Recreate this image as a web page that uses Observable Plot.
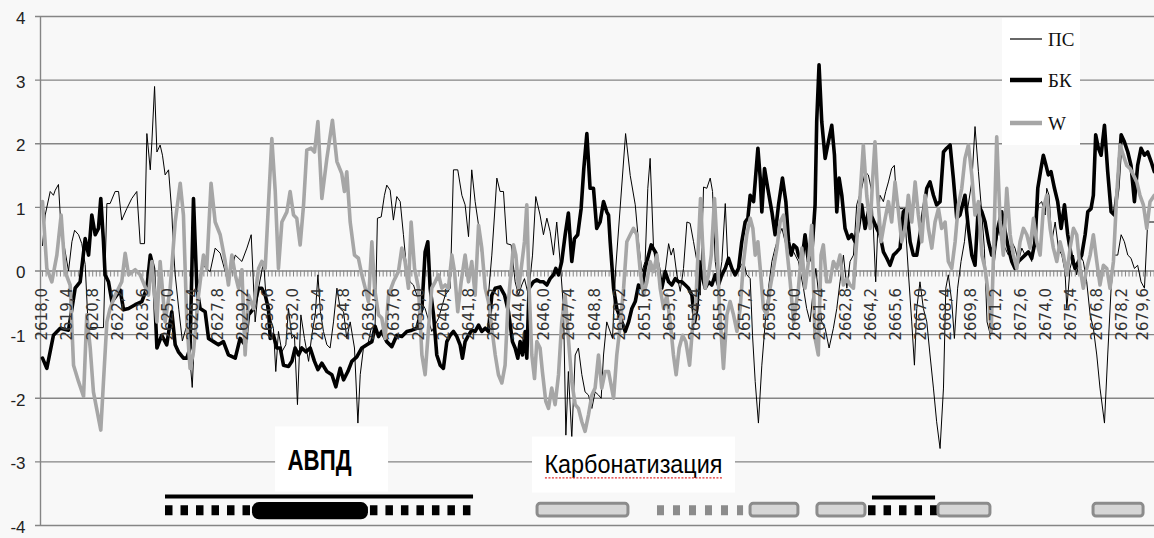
<!DOCTYPE html>
<html><head><meta charset="utf-8">
<script src="https://cdn.jsdelivr.net/npm/d3@7"></script>
<script src="https://cdn.jsdelivr.net/npm/@observablehq/plot@0.6"></script>
<style>
body{margin:0;background:#f8f8f8;}
#wrap{position:relative;width:1154px;height:538px;overflow:hidden;background:#f8f8f8;}
#legend{position:absolute;left:1002px;top:18px;width:78px;height:127px;background:#fff;}
</style></head><body>
<div id="wrap"></div>
<script>
// ---- series: [depth, value] ----
const psData = [
[2618.00,0.40],[2618.15,0.88],[2618.43,1.25],[2618.61,1.19],[2618.71,1.27],[2618.89,1.36],[2618.99,0.88],[2619.17,0.46],[2619.45,0.00],[2619.64,0.46],[2619.79,0.64],[2620.01,0.57],[2620.19,0.43],[2620.38,0.10],[2620.55,-0.89],[2621.40,-0.89],[2621.59,1.06],[2621.77,1.06],[2622.05,1.25],[2622.24,1.25],[2622.42,0.80],[2622.70,0.98],[2622.98,1.14],[2623.26,1.25],[2623.45,0.43],[2623.69,0.43],[2623.82,2.16],[2624.01,1.59],[2624.10,2.03],[2624.25,2.90],[2624.38,1.87],[2624.56,1.98],[2624.69,1.82],[2624.84,1.51],[2625.03,1.59],[2625.21,0.93],[2625.30,0.36],[2625.40,-0.06],[2625.60,-0.60],[2625.80,-1.10],[2626.00,-0.90],[2626.20,-1.30],[2626.35,-1.83],[2626.50,-0.90],[2626.70,-0.20],[2626.90,0.10],[2627.35,-0.01],[2627.63,0.36],[2627.91,0.28],[2628.19,-0.01],[2628.37,-0.17],
[2628.75,0.25],[2629.12,0.15],[2629.40,0.36],[2629.64,0.57],[2629.86,-0.80],[2630.05,-0.27],[2630.33,0.15],[2630.51,-0.59],[2630.70,-0.74],[2630.88,-0.90],[2631.01,-1.58],[2631.16,-0.95],[2631.35,-1.27],[2631.57,-1.16],[2631.72,-0.59],[2631.91,-1.06],[2632.05,-1.01],[2632.22,-2.10],[2632.41,-0.69],[2632.61,-1.06],[2632.84,-1.42],[2633.02,-1.01],[2633.21,-0.69],[2633.36,-0.06],[2633.50,-0.64],[2633.67,-0.95],[2633.86,-1.16],[2634.04,-1.21],[2634.23,-0.80],[2634.42,-0.27],[2634.60,-0.59],[2634.79,-0.64],[2634.97,-1.06],[2635.16,-0.80],[2635.40,-1.21],[2635.59,-2.39],[2635.72,-1.63],[2635.90,-1.21],[2636.14,-1.16],[2636.33,-0.90],[2636.55,-0.85],[2636.68,0.83],[2636.89,0.85],[2637.07,1.19],[2637.20,1.35],[2637.39,1.27],[2637.57,0.80],[2637.76,1.17],[2637.95,1.09],[2638.13,0.57],[2638.32,-0.01],[2638.50,-0.17],[2638.69,-0.22],[2638.88,-0.38],
[2639.34,-0.59],[2639.71,-0.95],[2640.09,-0.74],[2640.46,-0.38],[2640.74,-0.27],[2640.92,1.59],[2641.16,1.59],[2641.39,1.19],[2641.57,1.04],[2641.76,0.54],[2641.94,1.59],[2642.13,1.09],[2642.32,0.72],[2642.50,0.25],[2642.69,-0.27],[2642.87,-0.38],[2643.06,0.25],[2643.21,0.88],[2643.34,1.46],[2643.52,1.25],[2643.71,1.25],[2643.90,0.43],[2644.14,0.41],[2644.36,-0.17],[2644.55,-0.38],[2644.73,-0.22],[2644.88,-0.12],[2645.10,-0.38],[2645.33,0.25],[2645.51,1.17],[2645.75,0.88],[2645.94,0.57],[2646.13,0.83],[2646.31,0.62],[2646.50,0.25],[2646.68,0.77],[2646.87,0.15],[2647.06,-0.59],[2647.19,-2.58],[2647.33,-1.58],[2647.52,-2.63],[2647.71,-1.32],[2647.89,-1.21],[2648.08,-1.63],[2648.26,-1.90],[2648.45,-1.95],[2648.64,-2.16],[2648.82,-1.90],[2649.01,-1.95],[2649.16,-2.00],[2649.29,-1.32],[2649.47,-0.80],[2649.79,-1.06],[2649.96,0.00],[2650.52,2.16],[2650.78,1.50],[2651.06,1.04],[2651.24,0.46],[2651.43,-0.01],[2651.61,0.15],[2651.76,1.30],[2651.89,1.77],[2652.08,0.36],[2652.27,0.30],[2652.36,0.04],[2652.54,-0.27],[2652.73,-0.01],[2652.92,0.43],[2653.06,0.25],[2653.19,0.36],[2653.38,-0.06],[2653.57,-0.32],[2653.75,0.04],[2653.94,0.77],[2654.12,0.75],[2654.31,0.46],[2654.50,0.15],[2654.68,-0.38],[2654.87,1.32],[2655.05,1.30],[2655.24,1.46],[2655.37,1.25],[2655.52,0.15],[2655.70,-0.22],[2655.89,0.15],[2656.08,1.06],[2656.22,0.15],[2656.41,0.04],[2656.63,-0.01],[2656.86,0.04],[2657.10,0.15],[2657.28,-0.06],[2657.47,-0.12],[2657.60,-1.01],[2657.75,-1.74],[2657.93,-2.39],[2658.12,-1.48],[2658.31,-0.80],[2658.49,-0.27],[2658.68,0.15],[2658.86,0.36],[2659.05,0.54],[2659.24,0.67],[2659.42,0.46],[2659.61,0.25],[2659.79,0.36],[2659.98,0.25],
[2660.16,0.15],[2660.44,-0.27],[2660.62,-0.59],[2660.81,-0.80],[2661.00,-0.27],[2661.13,0.04],[2661.46,-0.80],[2661.65,-0.90],[2661.87,-1.21],[2662.11,-0.90],[2662.30,-0.59],[2662.48,-0.17],[2662.67,0.25],[2662.86,-0.27],[2663.04,0.15],[2663.23,0.25],[2663.41,1.04],[2663.69,1.30],[2663.88,1.56],[2664.06,1.51],[2664.25,1.25],[2664.47,-0.17],[2664.58,0.62],[2664.71,1.19],[2664.90,1.09],[2665.03,1.25],[2665.18,1.40],[2665.36,1.61],[2665.51,1.66],[2665.64,1.09],[2665.83,0.98],[2666.01,0.98],[2666.14,0.67],[2666.29,-0.01],[2666.48,-0.80],[2666.63,-1.48],[2666.76,-0.59],[2666.94,-0.17],[2667.13,-0.59],[2667.32,-0.80],[2667.50,-1.32],[2667.69,-1.84],[2667.87,-2.37],[2668.06,-2.79],[2668.25,-1.84],[2668.38,-0.27],[2668.52,-0.06],[2668.71,-0.48],[2668.86,-1.06],[2669.04,-0.27],[2669.23,0.15],[2669.42,0.46],[2669.60,0.98],[2669.83,1.40],[2670.01,2.27],[2670.20,1.56],[2670.38,0.93],[2670.53,0.36],[2670.68,-0.80],[2670.87,-1.01],
[2671.04,-0.01],[2671.13,0.25],[2671.32,0.67],[2671.50,0.46],[2671.69,0.36],[2671.87,0.25],[2672.06,0.46],[2672.24,0.36],[2672.43,0.15],[2672.62,0.36],[2672.80,0.25],[2672.99,0.30],[2673.17,0.15],[2673.36,0.67],[2673.55,1.04],[2673.73,1.09],[2673.92,0.88],[2674.01,1.30],[2674.14,1.19],[2674.29,0.46],[2674.48,0.77],[2674.66,0.36],[2674.85,0.25],[2675.03,-0.01],[2675.13,-0.59],[2675.31,0.04],[2675.50,0.25],[2675.68,-0.06],[2675.87,0.25],[2676.05,0.15],[2676.24,-0.17],[2676.43,-0.69],[2676.61,-0.90],[2676.80,-1.32],[2676.98,-1.84],[2677.23,-2.39],[2677.41,-1.32],[2677.60,-0.27],[2677.78,0.25],[2677.97,0.25],[2678.16,0.57],[2678.34,0.46],[2678.53,0.25],[2678.71,0.20],[2678.90,0.04],[2679.08,0.09],[2679.27,-0.17],[2679.46,-0.27],[2679.64,0.77],[2679.83,0.77],[2680.01,0.77]
];
const bkData = [
[2618.00,-1.37],[2618.24,-1.53],[2618.61,-1.01],[2618.99,-0.90],[2619.45,-0.93],[2619.82,-0.27],[2620.10,-0.17],[2620.38,0.51],[2620.57,0.25],[2620.75,0.88],[2620.94,0.57],[2621.12,0.67],[2621.25,1.14],[2621.40,0.46],[2621.49,-0.06],[2621.68,-0.17],[2621.87,-0.48],[2622.14,-0.38],[2622.33,-0.30],[2622.52,-0.61],[2622.80,-0.59],[2623.17,-0.53],[2623.54,-0.48],[2623.82,-0.27],[2624.01,0.25],[2624.19,0.04],[2624.38,-1.21],[2624.65,-1.01],[2624.93,-1.16],[2625.21,-0.64],[2625.40,-1.16],[2625.58,-1.27],[2625.86,-1.37],[2626.05,-1.37],[2626.23,-1.21],[2626.42,1.14],[2626.61,-0.27],[2626.79,-0.59],[2627.07,-0.64],[2627.26,-1.06],[2627.54,-1.11],[2627.81,-1.16],[2628.09,-1.11],[2628.37,-1.32],
[2628.75,-1.37],[2629.02,-1.06],[2629.30,-1.16],[2629.49,-0.69],[2629.77,-0.59],[2630.05,-0.27],[2630.23,-0.27],[2630.42,-0.38],[2630.60,-0.59],[2630.70,-1.06],[2630.88,-1.01],[2631.07,-1.21],[2631.26,-1.21],[2631.44,-1.48],[2631.72,-1.50],[2631.91,-1.42],[2632.09,-1.21],[2632.28,-1.32],[2632.46,-1.21],[2632.69,-1.27],[2632.93,-1.21],[2633.17,-1.42],[2633.36,-1.55],[2633.58,-1.45],[2633.86,-1.58],[2634.14,-1.63],[2634.36,-1.82],[2634.60,-1.53],[2634.79,-1.71],[2635.03,-1.58],[2635.25,-1.42],[2635.53,-1.35],[2635.81,-1.21],[2636.09,-1.16],[2636.37,-1.11],[2636.55,-0.87],[2636.74,-1.03],[2636.92,-0.95],[2637.20,-1.11],[2637.48,-1.19],[2637.76,-1.01],[2638.04,-1.03],[2638.32,-0.95],[2638.60,-0.93],[2638.88,-0.90],
[2639.16,-0.59],[2639.34,0.30],[2639.49,0.46],[2639.62,-0.27],[2639.81,-0.69],[2639.99,-1.32],[2640.18,-1.48],[2640.36,-1.53],[2640.55,-1.11],[2640.74,-1.01],[2640.92,-0.95],[2641.11,-1.03],[2641.29,-1.16],[2641.42,-1.37],[2641.57,-1.11],[2641.76,-1.01],[2641.94,-0.93],[2642.13,-0.95],[2642.32,-0.85],[2642.50,-0.95],[2642.69,-0.90],[2642.87,-0.95],[2643.06,-0.38],[2643.25,-0.27],[2643.52,-0.25],[2643.77,-0.38],[2643.99,-0.64],[2644.21,-1.11],[2644.36,-1.21],[2644.51,-1.37],[2644.64,-1.11],[2644.77,-1.32],[2644.92,-0.95],[2645.01,-1.37],[2645.14,-0.27],[2645.38,-0.17],[2645.57,-0.14],[2645.75,-0.17],[2645.94,-0.17],[2646.13,-0.22],[2646.31,-0.12],[2646.50,-0.06],[2646.63,0.04],[2646.78,-0.06],[2646.96,0.15],[2647.15,0.57],[2647.33,0.91],[2647.52,0.15],[2647.67,0.51],[2647.85,0.57],[2648.04,0.98],[2648.19,1.61],[2648.36,2.16],[2648.54,1.30],[2648.73,1.30],[2648.91,0.67],[2649.10,0.77],[2649.29,1.09],[2649.47,0.93],
[2649.57,0.88],[2649.66,0.46],[2649.85,-0.27],[2650.03,-0.59],[2650.31,-0.80],[2650.50,-0.95],[2650.69,-0.80],[2650.87,-0.59],[2651.06,-0.48],[2651.24,-0.22],[2651.43,-0.27],[2651.61,0.04],[2651.80,0.25],[2651.95,0.41],[2652.17,0.30],[2652.36,0.04],[2652.54,-0.27],[2652.73,-0.01],[2652.92,-0.17],[2653.10,-0.22],[2653.29,-0.12],[2653.47,-0.17],[2653.66,-0.17],[2653.85,-0.22],[2654.03,-0.27],[2654.22,-0.38],[2654.37,-0.80],[2654.50,-0.59],[2654.63,0.15],[2654.77,-0.06],[2654.96,-0.27],[2655.15,-0.17],[2655.33,-0.22],[2655.52,-0.06],[2655.70,-0.22],[2655.89,-0.06],[2656.08,0.04],[2656.26,0.20],[2656.45,0.04],[2656.63,-0.06],[2656.82,0.04],[2657.00,0.46],[2657.19,0.77],[2657.34,0.83],[2657.47,1.19],[2657.66,1.09],[2657.90,1.93],[2658.03,1.46],[2658.12,0.93],[2658.27,1.61],[2658.45,1.30],[2658.68,0.93],[2658.86,0.57],[2659.05,1.04],[2659.27,1.46],[2659.46,1.09],[2659.61,0.46],[2659.76,0.25],[2659.90,0.41],[2660.07,0.36],
[2660.16,0.25],[2660.35,0.15],[2660.53,0.57],[2660.72,0.15],[2660.90,0.25],[2661.09,1.04],[2661.18,2.35],[2661.31,3.24],[2661.46,2.35],[2661.65,1.77],[2661.83,2.03],[2662.02,2.29],[2662.17,1.82],[2662.30,0.93],[2662.43,1.46],[2662.58,1.19],[2662.76,0.67],[2662.95,0.51],[2663.13,0.57],[2663.32,0.46],[2663.51,0.67],[2663.69,1.04],[2663.88,0.67],[2664.06,0.93],[2664.29,0.83],[2664.53,0.67],[2664.71,0.57],[2664.90,0.30],[2665.09,0.20],[2665.27,0.09],[2665.46,0.25],[2665.64,0.30],[2665.83,0.36],[2666.01,0.93],[2666.20,0.98],[2666.39,0.46],[2666.57,0.25],[2666.76,0.25],[2666.94,0.57],[2667.13,0.93],[2667.32,1.30],[2667.50,1.40],[2667.69,1.19],[2667.87,1.04],[2668.06,1.09],[2668.25,1.87],[2668.43,1.93],[2668.62,1.98],[2668.80,1.46],[2668.99,0.83],[2669.17,0.88],[2669.45,1.19],[2669.64,0.67],[2669.83,0.25],[2670.01,0.09],
[2670.20,1.04],[2670.39,0.93],[2670.57,0.77],[2670.76,0.46],[2670.94,0.25],[2671.13,0.46],[2671.32,0.72],[2671.50,0.93],[2671.69,0.62],[2671.87,0.36],[2672.06,0.15],[2672.24,0.04],[2672.43,0.15],[2672.62,0.20],[2672.80,0.25],[2672.99,0.30],[2673.17,0.20],[2673.36,0.46],[2673.51,1.30],[2673.69,1.61],[2673.82,1.82],[2673.97,1.66],[2674.10,1.51],[2674.25,1.56],[2674.44,1.30],[2674.62,1.09],[2674.81,0.67],[2675.00,1.04],[2675.18,0.57],[2675.37,0.25],[2675.59,0.04],[2675.78,0.15],[2675.96,0.25],[2676.15,0.57],[2676.30,0.93],[2676.48,0.98],[2676.61,1.19],[2676.74,2.14],[2676.89,1.93],[2677.04,1.82],[2677.23,2.29],[2677.41,1.56],[2677.60,0.93],[2677.78,0.88],[2677.97,1.30],[2678.16,2.14],[2678.34,2.03],[2678.53,1.87],[2678.71,1.66],[2678.90,1.09],[2679.08,1.66],[2679.27,1.93],[2679.46,1.82],[2679.64,1.87],[2679.83,1.72],[2680.01,1.56]
];
const wData = [
[2618.00,1.09],[2618.24,0.04],[2618.52,-0.17],[2618.80,0.25],[2619.04,0.88],[2619.26,-0.01],[2619.54,-0.22],[2619.73,-1.48],[2620.01,-1.74],[2620.29,-1.97],[2620.47,-0.69],[2620.66,-1.21],[2620.84,-1.90],[2621.25,-2.50],[2621.40,-1.74],[2621.59,-0.80],[2621.77,-0.59],[2622.05,-0.38],[2622.42,-0.17],[2622.61,0.28],[2622.80,-0.06],[2623.17,0.02],[2623.45,-0.06],[2623.91,-0.38],[2624.10,0.15],[2624.38,-0.80],[2624.56,0.15],[2624.84,-0.80],[2625.12,-0.27],[2625.40,0.77],[2625.68,1.38],[2625.86,0.88],[2626.05,-0.80],[2626.23,-1.53],[2626.42,-1.27],[2626.70,-0.38],[2626.98,0.25],[2627.16,0.04],[2627.40,1.38],[2627.63,0.77],[2627.91,0.57],[2628.19,0.15],[2628.37,-0.22],
[2628.56,0.25],[2628.75,-0.06],[2628.93,-0.27],[2629.12,0.02],[2629.30,-1.32],[2629.49,-0.38],[2629.77,-0.59],[2630.05,0.04],[2630.23,0.15],[2630.42,0.04],[2630.60,1.04],[2630.79,2.08],[2630.98,1.25],[2631.16,0.04],[2631.35,0.77],[2631.63,0.93],[2631.81,1.25],[2632.00,0.88],[2632.18,0.83],[2632.37,0.41],[2632.56,1.04],[2632.74,1.90],[2632.98,1.93],[2633.17,1.87],[2633.36,2.35],[2633.58,1.14],[2633.86,1.77],[2634.17,2.37],[2634.42,1.72],[2634.69,1.53],[2634.84,1.25],[2634.97,1.56],[2635.16,0.77],[2635.40,0.25],[2635.62,0.20],[2635.81,-0.06],[2636.00,-0.27],[2636.18,-0.48],[2636.37,0.46],[2636.52,-0.27],[2636.74,-0.69],[2636.92,-0.74],[2637.11,-1.06],[2637.30,-0.38],[2637.57,-0.17],[2637.85,-0.01],[2638.04,0.36],[2638.22,0.15],[2638.41,-0.27],[2638.56,0.77],[2638.75,0.04],[2638.97,-0.27],
[2639.16,-1.32],[2639.34,-1.63],[2639.53,-0.90],[2639.71,-0.27],[2639.90,-0.17],[2640.09,-0.06],[2640.27,-0.27],[2640.46,-0.22],[2640.64,-0.27],[2640.83,0.25],[2640.98,-0.01],[2641.16,-0.64],[2641.35,-0.17],[2641.57,0.25],[2641.76,-0.17],[2641.94,0.15],[2642.13,-0.38],[2642.32,0.72],[2642.50,0.36],[2642.69,-0.27],[2642.87,-0.48],[2643.06,-0.90],[2643.25,-1.32],[2643.43,-1.63],[2643.62,-1.76],[2643.80,-1.48],[2643.95,-0.59],[2644.08,-0.17],[2644.27,0.41],[2644.40,0.25],[2644.55,-0.27],[2644.70,0.04],[2644.88,0.46],[2645.01,1.04],[2645.14,-0.27],[2645.29,-1.32],[2645.44,-1.69],[2645.57,-1.11],[2645.75,-1.21],[2645.88,-1.58],[2646.07,-2.05],[2646.22,-2.16],[2646.40,-1.84],[2646.59,-2.10],[2646.78,-1.63],[2646.96,-0.80],[2647.15,-0.38],[2647.33,-1.06],[2647.52,-1.74],[2647.71,-2.10],[2647.89,-2.16],[2648.08,-2.37],[2648.26,-2.52],[2648.45,-2.26],[2648.64,-1.95],[2648.82,-1.84],[2649.01,-1.32],[2649.19,-1.84],[2649.38,-1.58],
[2649.57,-1.58],[2649.85,-2.00],[2650.03,-1.32],[2650.22,-0.85],[2650.41,-0.27],[2650.59,0.46],[2650.78,0.57],[2650.96,0.67],[2651.15,0.57],[2651.34,-0.01],[2651.52,-0.38],[2651.71,-0.17],[2651.89,0.15],[2652.08,-0.01],[2652.27,0.25],[2652.45,-0.27],[2652.64,-0.59],[2652.82,-0.38],[2653.01,-0.80],[2653.19,-1.32],[2653.34,-1.63],[2653.51,-1.21],[2653.70,-1.01],[2653.88,-1.11],[2654.09,-1.48],[2654.25,-0.90],[2654.44,-0.48],[2654.59,0.46],[2654.70,1.14],[2654.81,0.46],[2654.96,-0.27],[2655.15,-0.06],[2655.30,0.25],[2655.48,1.14],[2655.61,0.46],[2655.76,-0.59],[2655.98,-1.53],[2656.17,-0.69],[2656.35,-0.48],[2656.54,-0.69],[2656.73,-0.95],[2656.91,-0.59],[2657.10,0.15],[2657.28,0.57],[2657.47,0.83],[2657.62,0.67],[2657.75,0.25],[2657.90,0.46],[2658.03,0.04],[2658.21,-0.59],[2658.40,-0.69],[2658.58,-0.27],[2658.77,0.04],[2658.96,0.36],[2659.14,0.77],[2659.33,0.88],[2659.51,0.36],[2659.70,-0.17],[2659.89,-0.80],
[2660.16,-0.27],[2660.35,0.36],[2660.53,-0.27],[2660.72,0.15],[2660.90,0.72],[2661.09,-1.06],[2661.27,-1.32],[2661.42,0.25],[2661.55,0.41],[2661.73,-0.17],[2661.92,-0.17],[2662.11,0.15],[2662.30,0.04],[2662.48,0.25],[2662.67,-0.22],[2662.86,-0.12],[2663.04,-0.22],[2663.23,-0.27],[2663.41,0.46],[2663.60,1.19],[2663.78,1.98],[2663.97,1.19],[2664.16,0.67],[2664.29,1.40],[2664.43,2.03],[2664.58,1.19],[2664.77,0.46],[2664.96,0.77],[2665.18,1.09],[2665.36,0.77],[2665.55,1.40],[2665.74,0.93],[2665.92,0.46],[2666.11,0.67],[2666.29,1.19],[2666.48,0.77],[2666.67,1.40],[2666.85,0.88],[2667.04,0.46],[2667.22,1.19],[2667.41,0.67],[2667.60,0.36],[2667.78,0.77],[2667.97,0.98],[2668.15,0.67],[2668.34,0.77],[2668.52,0.15],[2668.71,0.04],[2668.90,0.46],[2669.08,1.04],[2669.27,1.30],[2669.45,1.77],[2669.64,1.98],[2669.83,1.51],[2670.01,0.88],[2670.20,1.09],
[2670.39,0.25],[2670.57,0.04],[2670.76,-0.38],[2670.91,-0.95],[2671.04,0.25],[2671.22,2.11],[2671.41,0.77],[2671.59,0.25],[2671.78,1.30],[2671.97,0.57],[2672.15,0.25],[2672.34,0.04],[2672.52,0.46],[2672.71,0.67],[2672.90,0.57],[2673.08,0.36],[2673.27,0.83],[2673.45,0.46],[2673.64,0.25],[2673.82,0.98],[2674.01,1.19],[2674.20,0.67],[2674.38,0.36],[2674.57,0.15],[2674.75,0.46],[2674.94,0.25],[2675.13,-0.06],[2675.31,0.36],[2675.50,0.67],[2675.68,0.57],[2675.87,0.04],[2676.05,-0.27],[2676.24,0.04],[2676.43,0.25],[2676.61,0.57],[2676.80,0.15],[2676.98,-0.22],[2677.17,0.09],[2677.36,0.04],[2677.54,-0.27],[2677.73,0.15],[2677.91,1.19],[2678.10,1.98],[2678.28,1.82],[2678.47,1.66],[2678.66,1.61],[2678.84,1.51],[2679.03,1.40],[2679.21,1.19],[2679.40,1.04],[2679.59,0.67],[2679.77,1.09],[2680.01,1.19]
];

// ---- axes ----
const yTicks = [-4,-3,-2,-1,0,1,2,3,4];
const xTickLabels = [2618.0,2619.4,2620.8,2622.2,2623.6,2625.0,2626.4,2627.8,2629.2,2630.6,2632.0,2633.4,2634.8,2636.2,2637.6,2639.0,2640.4,2641.8,2643.2,2644.6,2646.0,2647.4,2648.8,2650.2,2651.6,2653.0,2654.4,2655.8,2657.2,2658.6,2660.0,2661.4,2662.8,2664.2,2665.6,2667.0,2668.4,2669.8,2671.2,2672.6,2674.0,2675.4,2676.8,2678.2,2679.6];
const minorStep = 0.2;
const axisStart = 2617.888;      // position of the value axis
const xDomain = [2617.609, 2680.02];

// ---- annotations (depth intervals, value levels) ----
const labelBoxes = [
  {x1: 2631.0, x2: 2637.3, y1: -2.45, y2: -3.475},
  {x1: 2645.33, x2: 2656.65, y1: -2.61, y2: -3.49}
];
const boldLabels = [{text: "АВПД", x: 2633.45, y: -2.98, len: 64}];
const plainLabels = [{text: "Карбонатизация", x: 2650.96, y: -3.05, len: 178}];
const spellLine = [{x1: 2646.05, x2: 2655.93, y: -3.25}];
const blackSolid = [{x1: 2624.86, x2: 2642.04, y: -3.545}, {x1: 2664.29, x2: 2667.81, y: -3.56}];
const blackDashed = [{x1: 2624.86, x2: 2629.60, y: -3.76}, {x1: 2636.29, x2: 2642.04, y: -3.76}, {x1: 2664.07, x2: 2667.92, y: -3.76}];
const blackBlock = [{x1: 2629.71, x2: 2636.18, y1: -3.64, y2: -3.91}];
const grayDashed = [{x1: 2652.30, x2: 2657.10, y: -3.76}];
const grayRects = [
  {x1: 2645.61, x2: 2650.68}, {x1: 2657.49, x2: 2660.16}, {x1: 2661.22, x2: 2663.90},
  {x1: 2667.97, x2: 2670.87}, {x1: 2676.62, x2: 2679.41}
];
const rectTop = -3.66, rectBottom = -3.86;

const minorTicks = d3.range(0, 311).map(i => 2618 + i * minorStep);
const fmt = d => d.toFixed(1).replace(".", ",");
const GRID = "#858585";
const xLabelStyle = {y: 0, text: fmt, rotate: -90, textAnchor: "end", dy: 17,
  fontSize: 15, fontFamily: "DejaVu Sans", fill: "#333"};

const chart = Plot.plot({
  width: 1154, height: 538,
  marginLeft: 35, marginRight: 0, marginTop: 16, marginBottom: 13,
  x: {domain: xDomain, axis: null},
  y: {domain: [-4, 4], axis: null},
  style: {background: "transparent", overflow: "visible"},
  marks: [
    Plot.ruleY(yTicks, {stroke: GRID, strokeWidth: 1.4}),
    Plot.ruleX([axisStart], {y1: -4, y2: 4, stroke: GRID, strokeWidth: 1.4}),
    Plot.ruleX(minorTicks, {x: d => d, y1: 0, y2: -0.095, stroke: GRID, strokeWidth: 1}),
    Plot.line(psData, {x: d => d[0], y: d => d[1], stroke: "#000", strokeWidth: 1, strokeLinejoin: "round"}),
    Plot.line(bkData, {x: d => d[0], y: d => d[1], stroke: "#000", strokeWidth: 3.6, strokeLinejoin: "round"}),
    Plot.line(wData, {x: d => d[0], y: d => d[1], stroke: "#a6a6a6", strokeWidth: 3.6, strokeLinejoin: "round"}),
    Plot.text(xTickLabels.slice(0, -1), {x: d => d, ...xLabelStyle}),
    Plot.text(xTickLabels.slice(-1), {x: d => d, ...xLabelStyle, dx: -4}),
    Plot.text(yTicks, {x: axisStart, y: d => d, text: d => String(d), textAnchor: "end", dx: -15, dy: 2,
      fontSize: 17, fontFamily: "Liberation Sans", fill: "#222"}),
    Plot.rect(labelBoxes, {x1: "x1", x2: "x2", y1: "y1", y2: "y2", fill: "#fff"}),
    Plot.text(boldLabels, {x: "x", y: "y", text: "text", fontSize: 30, fontWeight: "bold",
      fontFamily: "Liberation Sans", fill: "#000"}),
    Plot.text(plainLabels, {x: "x", y: "y", text: "text", fontSize: 25,
      fontFamily: "Liberation Sans", fill: "#000"}),
    Plot.ruleY(spellLine, {x1: "x1", x2: "x2", y: "y", stroke: "#e03030", strokeWidth: 1.3, strokeDasharray: "2,1.5"}),
    Plot.ruleY(blackSolid, {x1: "x1", x2: "x2", y: "y", stroke: "#000", strokeWidth: 4}),
    Plot.ruleY(blackDashed, {x1: "x1", x2: "x2", y: "y", stroke: "#000", strokeWidth: 10, strokeDasharray: "7.5,8"}),
    Plot.rect(blackBlock, {x1: "x1", x2: "x2", y1: "y1", y2: "y2", fill: "#000", rx: 7}),
    Plot.ruleY(grayDashed, {x1: "x1", x2: "x2", y: "y", stroke: "#8c8c8c", strokeWidth: 10, strokeDasharray: "7,9"}),
    Plot.rect(grayRects, {x1: "x1", x2: "x2", y1: rectTop, y2: rectBottom, fill: "#d6d6d6", stroke: "#8c8c8c", strokeWidth: 3, rx: 3})
  ]
});

// fit annotation text widths to the reference
const allLabels = boldLabels.concat(plainLabels);
d3.select(chart).selectAll("text").each(function() {
  const t = this.textContent;
  const lab = allLabels.find(l => l.text === t);
  if (lab) d3.select(this).attr("textLength", lab.len).attr("lengthAdjust", "spacingAndGlyphs");
});

const wrap = document.getElementById("wrap");
wrap.appendChild(chart);

// legend (overlay box, top right)
const legendItems = [
  {name: "ПС", color: "#000", width: 1.2},
  {name: "БК", color: "#000", width: 4.5},
  {name: "W", color: "#a6a6a6", width: 4.5}
];
const legendRows = [21, 62, 105];
const lg = document.createElement("div");
lg.id = "legend";
lg.innerHTML = `<svg width="78" height="127" xmlns="http://www.w3.org/2000/svg">${
  legendItems.map((d, i) => `<line x1="8" x2="40" y1="${legendRows[i]}" y2="${legendRows[i]}" stroke="${d.color}" stroke-width="${d.width}"/>
  <text x="46" y="${legendRows[i]}" dy="0.35em" font-family="Liberation Serif" font-size="19" fill="#111">${d.name}</text>`).join("")
}</svg>`;
wrap.appendChild(lg);
</script>
</body></html>
